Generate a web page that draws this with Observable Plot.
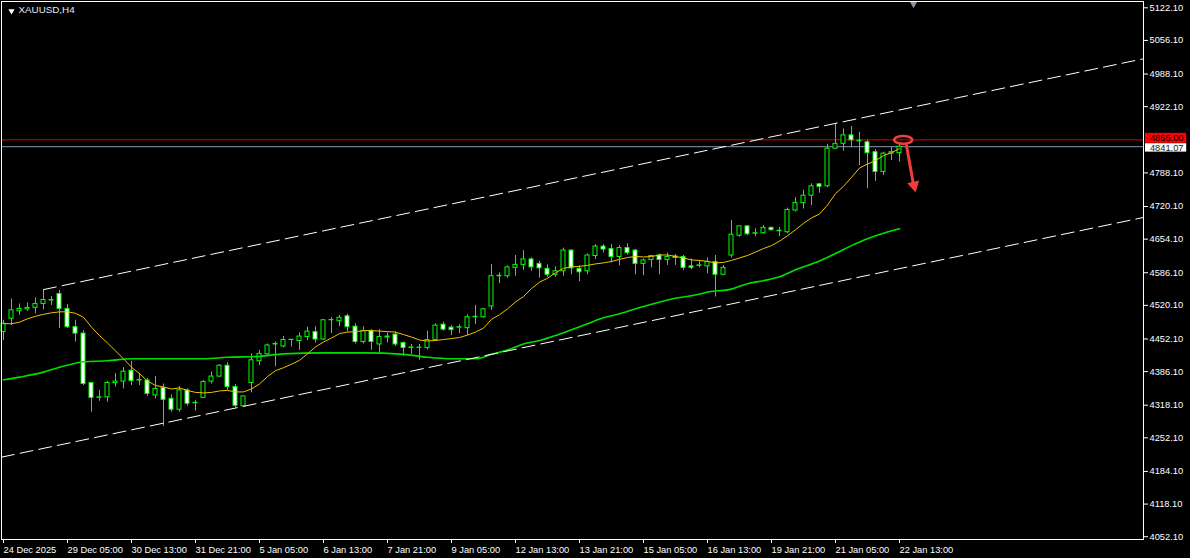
<!DOCTYPE html>
<html><head><meta charset="utf-8">
<script src="https://cdn.jsdelivr.net/npm/d3@7"></script>
<script src="https://cdn.jsdelivr.net/npm/@observablehq/plot@0.6"></script>
<style>
html,body{margin:0;padding:0;background:#000;overflow:hidden;}
#chart svg{display:block;}
</style></head><body><div id="chart"></div>
<script>
// ---------- data ----------
const symbolName = "XAUUSD,H4";
const xTickIdx = [0,8,16,24,32,40,48,56,64,72,80,88,96,104,112];
const xLabels = ["24 Dec 2025","29 Dec 05:00","30 Dec 13:00","31 Dec 21:00","5 Jan 05:00","6 Jan 13:00","7 Jan 21:00","9 Jan 05:00","12 Jan 13:00","13 Jan 21:00","15 Jan 05:00","16 Jan 13:00","19 Jan 21:00","21 Jan 05:00","22 Jan 13:00"];
const priceTicks = [5122.10,5056.10,4988.10,4922.10,4788.10,4720.10,4654.10,4586.10,4520.10,4452.10,4386.10,4318.10,4252.10,4184.10,4118.10,4052.10];

const open = [4466,4493,4508,4512,4515,4523,4530,4543,4513,4476, 4463,4363,4333,4334,4363,4366,4388,4368,4368,4338, 4353,4331,4309,4348,4322,4333,4366,4376,4398,4355, 4316,4363,4407,4421,4441,4437,4450,4448,4456,4466, 4451,4490,4488,4498,4477,4446,4468,4441,4455,4461, 4444,4434,4434,4434,4450,4481,4475,4475,4474,4496, 4496,4518,4579,4579,4596,4602,4613,4604,4594,4582, 4589,4631,4594,4589,4620,4639,4634,4618,4636,4631, 4604,4612,4621,4612,4619,4618,4599,4600,4599,4608, 4582,4621,4661,4680,4665,4666,4677,4670,4668,4712, 4727,4742,4765,4761,4837,4847,4864,4853,4850,4830, 4790,4827,4828];
const high = [4490,4533,4523,4525,4535,4552,4538,4550,4522,4490, 4469,4363,4348,4366,4382,4394,4407,4382,4372,4376, 4361,4339,4356,4351,4328,4368,4385,4400,4404,4360, 4336,4422,4429,4442,4446,4457,4451,4464,4476,4477, 4491,4495,4500,4502,4483,4477,4471,4471,4464,4466, 4446,4441,4441,4468,4483,4486,4479,4481,4501,4520, 4514,4603,4586,4600,4621,4631,4616,4609,4602,4598, 4636,4632,4600,4624,4643,4643,4643,4641,4645,4633, 4614,4621,4624,4626,4623,4621,4614,4611,4616,4621, 4601,4692,4680,4681,4675,4682,4678,4678,4717,4738, 4753,4766,4767,4846,4887,4877,4882,4870,4854,4835, 4830,4840,4847];
const low = [4449,4479,4500,4508,4503,4511,4520,4473,4473,4446, 4358,4304,4326,4324,4355,4351,4358,4358,4336,4331, 4275,4304,4304,4316,4306,4332,4361,4374,4348,4313, 4314,4343,4398,4417,4396,4434,4436,4429,4449,4444, 4449,4463,4477,4466,4442,4442,4429,4423,4444,4437, 4417,4421,4409,4430,4448,4468,4459,4463,4459,4481, 4494,4510,4564,4575,4579,4591,4589,4575,4577,4577, 4579,4582,4568,4582,4613,4626,4606,4600,4622,4582, 4580,4596,4582,4601,4601,4591,4592,4596,4584,4537, 4580,4616,4658,4661,4659,4664,4671,4659,4665,4709, 4715,4722,4747,4758,4835,4832,4839,4803,4756,4771, 4783,4813,4810];
const close = [4483,4510,4513,4515,4523,4531,4531,4513,4476,4463, 4361,4333,4334,4363,4366,4386,4367,4369,4341,4351, 4329,4309,4348,4321,4323,4365,4376,4398,4355,4317, 4336,4409,4422,4439,4442,4450,4450.5,4457,4467,4451, 4490,4490.5,4495,4476,4446,4468,4446,4456,4457,4441, 4434,4435,4434.5,4450,4479,4471,4470,4476,4496,4497, 4512,4579,4580,4597,4602,4613,4597,4595,4582,4589, 4631,4595,4587,4621,4639,4633,4618,4636,4626,4604, 4611,4620,4612,4618,4616,4596,4596,4601,4608,4582, 4596,4663,4680,4664,4666,4677,4672,4671,4713,4727, 4742,4761,4760,4837,4847,4864,4854,4852,4828,4790, 4827,4830,4841.07];

// fast moving average (yellow), one value per bar
const maFast = [4483,4483,4486,4493,4498,4502,4505,4507,4507,4504, 4496,4476,4459,4444,4428,4412,4395,4382,4367,4358, 4355,4351,4353,4348,4344,4343,4344,4347,4348,4345, 4345,4351,4361,4376,4388,4394,4401,4409,4422,4436, 4446,4454,4463,4466,4467,4469,4469,4468,4467,4466, 4461,4456,4450,4448,4449,4451,4453,4455,4460,4466, 4474,4492,4501,4513,4527,4538,4554,4567,4575,4586, 4595,4598,4599,4601,4604,4606,4609,4613,4617,4619, 4618,4619,4622,4622,4619,4616,4612,4611,4609,4606, 4607,4611,4616,4621,4628,4635,4641,4650,4661,4673, 4686,4697,4705,4723,4746,4761,4779,4798,4806,4813, 4823,4829,4837];
const maSlowIdx = [0,2,5,7,9,10,13,16,25,28,32,35,40,45,50,53,56,59,61,63,65,67,69,71,73,75,77,80,83,87,88,91,93,95,97,99,102,104,106,108,110,112];
const maSlow = [4369.5,4375,4385,4395,4403,4406,4408,4412,4412,4415,4417,4422,4424,4424,4421,4415,4412,4412,4421,4430,4442,4449,4459,4471,4483,4495,4503,4518,4531,4543,4547,4553,4564,4570,4578,4592,4610,4625,4641,4655,4666,4675];

// drawn channel (two parallel dashed lines)
const upperIdx = [5, 142.5];
const upperVal = [4552, 5019];
const lowerIdx = [-0.25, 142.5];
const lowerVal = [4213, 4698];

// horizontal levels
const levelRed = 4855.00;
const levelBid = 4841.07;

// annotations: ellipse and arrow
const ellipseAt = [{i: 112.46, v: 4855}];
const arrowShaft = [{i: 112.875, v: 4843.4}, {i: 113.72, v: 4767}];
const arrowHead = [{i: 113.81, v: 4762.9}];
const shiftMarkIdx = [113.75];

// ---------- build ----------
const bars = open.map((o, i) => ({i, o, h: high[i], l: low[i], c: close[i]}));
const fast = maFast.map((v, i) => ({i, v}));
const slow = maSlowIdx.map((i, k) => ({i, v: maSlow[k]}));
const upper = upperIdx.map((i, k) => ({i, v: upperVal[k]}));
const lower = lowerIdx.map((i, k) => ({i, v: lowerVal[k]}));

const GREEN = "#00ff00";
const RED_ANN = "#f23d3d";

const ellipseSymbol = {
  draw(ctx) {
    const rx = 9, ry = 3.9, k = 0.5523;
    ctx.moveTo(rx, 0);
    ctx.bezierCurveTo(rx, ry * k, rx * k, ry, 0, ry);
    ctx.bezierCurveTo(-rx * k, ry, -rx, ry * k, -rx, 0);
    ctx.bezierCurveTo(-rx, -ry * k, -rx * k, -ry, 0, -ry);
    ctx.bezierCurveTo(rx * k, -ry, rx, -ry * k, rx, 0);
    ctx.closePath();
  }
};

const chart = Plot.plot({
  width: 1190,
  height: 558,
  marginLeft: 1,
  marginRight: 47,
  marginTop: 1,
  marginBottom: 19,
  style: {background: "#000", color: "#fff", fontFamily: "'Liberation Sans', Arial, sans-serif", fontSize: "9.3px", overflow: "visible"},
  x: {type: "linear", domain: [-0.25, 142.5]},
  y: {type: "linear", domain: [4046.43, 5134.85]},
  marks: [
    Plot.ruleY([levelRed], {stroke: "#e00000", strokeWidth: 1}),
    Plot.ruleY([levelBid], {stroke: "#8a9bb0", strokeWidth: 1}),
    Plot.ruleX(bars, {x: "i", y1: "l", y2: "h", stroke: GREEN, strokeWidth: 1}),
    Plot.rect(bars, {x1: d => d.i - 0.25, x2: d => d.i + 0.25, y1: "o", y2: "c",
      fill: d => d.c >= d.o ? "#000000" : "#ffffff", stroke: GREEN, strokeWidth: 1}),
    Plot.line(slow, {x: "i", y: "v", stroke: "#00e000", strokeWidth: 1.6, curve: "monotone-x", clip: true}),
    Plot.line(fast, {x: "i", y: "v", stroke: "#f2c200", strokeWidth: 1, clip: true}),
    Plot.line(upper, {x: "i", y: "v", stroke: "#ffffff", strokeWidth: 1, strokeDasharray: "13,6", clip: true}),
    Plot.line(lower, {x: "i", y: "v", stroke: "#ffffff", strokeWidth: 1, strokeDasharray: "13,6", clip: true}),
    Plot.dot(ellipseAt, {x: "i", y: "v", symbol: ellipseSymbol, fill: "none", stroke: RED_ANN, strokeWidth: 2.6}),
    Plot.line(arrowShaft, {x: "i", y: "v", stroke: RED_ANN, strokeWidth: 3}),
    Plot.dot(arrowHead, {x: "i", y: "v", symbol: "triangle", rotate: 167.5, r: 4.6, fill: RED_ANN, stroke: "none"}),
    Plot.frame({stroke: "#ffffff"}),
    Plot.axisY(priceTicks, {anchor: "right", tickSize: 4, tickPadding: 2, tickFormat: d => d.toFixed(2), label: null, fill: "#fff"}),
    Plot.axisX(xTickIdx, {anchor: "bottom", tickSize: 4, tickPadding: 3, tickFormat: d => xLabels[xTickIdx.indexOf(d)], textAnchor: "start", dx: 0, label: null, fill: "#fff"}),
    // price labels on the axis
    Plot.rect([levelRed], {x1: 142.75, x2: 147.9, y1: d => d, y2: d => d, insetTop: -6.5, insetBottom: -3.5, fill: "#ff0000"}),
    Plot.text([levelRed], {x: 143.3, y: d => d, dy: -1.5, text: d => d.toFixed(2), textAnchor: "start", fill: "#000000"}),
    Plot.rect([levelBid], {x1: 142.75, x2: 147.9, y1: d => d, y2: d => d, insetTop: -3, insetBottom: -5.4, fill: "#ffffff"}),
    Plot.text([levelBid], {x: 143.3, y: d => d, dy: 1.2, text: d => d.toFixed(2), textAnchor: "start", fill: "#222222"}),
    // header
    Plot.dot([null], {frameAnchor: "top-left", dx: 10, dy: 9.5, symbol: "triangle", rotate: 180, r: 2.3, fill: "#ffffff", stroke: "none"}),
    Plot.text([symbolName], {frameAnchor: "top-left", dx: 17, dy: 5, textAnchor: "start", lineAnchor: "top", fill: "#e6e8f0", fontSize: 9.8}),
    // chart shift marker
    Plot.dot(shiftMarkIdx, {x: d => d, frameAnchor: "top", dy: 2.6, symbol: "triangle", rotate: 180, r: 2.6, fill: "#8a96a3", stroke: "none"})
  ]
});
document.getElementById("chart").appendChild(chart);
</script>
</body></html>
